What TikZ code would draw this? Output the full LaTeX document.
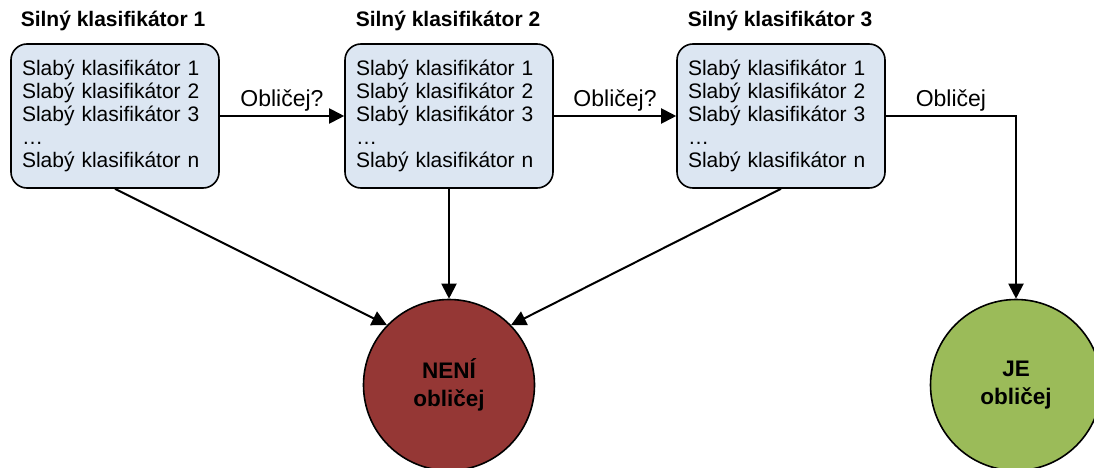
\documentclass[tikz,border=0pt]{standalone}
\usepackage{fontspec}
\setmainfont{Liberation Sans}
\usetikzlibrary{arrows.meta}
\definecolor{boxblue}{HTML}{DCE6F2}
\definecolor{noface}{HTML}{953735}
\definecolor{yesface}{HTML}{9BBB59}
\begin{document}
\begin{tikzpicture}[x=1pt,y=-1pt,
  classbox/.style={draw=black, line width=1.6pt, fill=boxblue, rounded corners=16pt,
    minimum width=208pt, minimum height=144pt, text width=186pt, align=left,
    inner xsep=11pt, font=\fontsize{21}{23}\selectfont},
  stagetitle/.style={anchor=base, font=\bfseries\fontsize{21}{23}\selectfont},
  flow/.style={line width=2pt, -{Triangle[length=15pt,width=15pt]}},
  verdict/.style={circle, draw=black, line width=1.6pt, minimum size=171pt,
    align=center, font=\bfseries\fontsize{22.5}{28}\selectfont},
  edgelbl/.style={above, inner sep=4pt, font=\fontsize{23}{25}\selectfont}
]
\useasboundingbox (0,0) rectangle (1094,468);

% stage titles
\node[stagetitle] (t1) at (113,27) {Silný klasifikátor 1};
\node[stagetitle] (t2) at (448,27) {Silný klasifikátor 2};
\node[stagetitle] (t3) at (780,27) {Silný klasifikátor 3};

% strong classifiers built from weak ones
\node[classbox] (b1) at (115,116) {Slabý klasifikátor 1\\Slabý klasifikátor 2\\Slabý klasifikátor 3\\…\\Slabý klasifikátor n};
\node[classbox] (b2) at (449,116) {Slabý klasifikátor 1\\Slabý klasifikátor 2\\Slabý klasifikátor 3\\…\\Slabý klasifikátor n};
\node[classbox] (b3) at (781,116) {Slabý klasifikátor 1\\Slabý klasifikátor 2\\Slabý klasifikátor 3\\…\\Slabý klasifikátor n};

% final decisions
\node[verdict, fill=noface] (neni) at (449,385) {NENÍ\\obličej};
\node[verdict, fill=yesface] (je) at (1016,385) {JE\\obličej};

% cascade
\draw[flow] (b1) -- node[edgelbl] {Obličej?} (b2);
\draw[flow] (b2) -- node[edgelbl] {Obličej?} (b3);
\draw[flow] (b3.east) -| node[edgelbl, pos=0.25] {Obličej} (je.north);

% rejections
\draw[flow] (b1.south) -- (neni.136);
\draw[flow] (b2.south) -- (neni.north);
\draw[flow] (b3.south) -- (neni.44);
\end{tikzpicture}
\end{document}
